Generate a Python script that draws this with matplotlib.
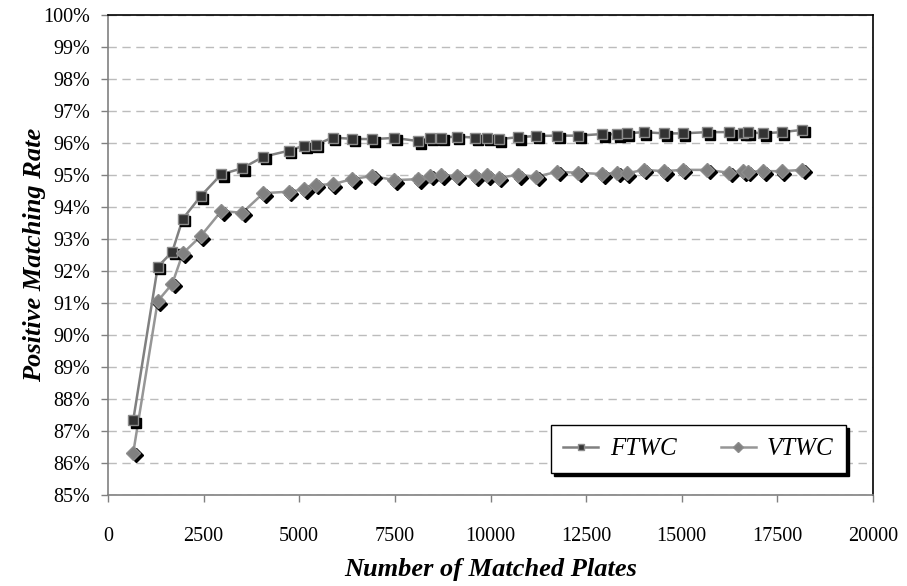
import matplotlib
matplotlib.use('Agg')
import matplotlib.pyplot as plt
import matplotlib.transforms as mtransforms
from matplotlib.ticker import MultipleLocator, FuncFormatter

# number of matched plates (shared by both series)
plates = [660, 1300, 1680, 1955, 2425, 2960, 3510, 4060, 4730, 5130,
          5430, 5870, 6380, 6905, 7490, 8105, 8425, 8715, 9115, 9595,
          9915, 10210, 10720, 11195, 11750, 12290, 12920, 13310, 13560, 14000,
          14540, 15020, 15665, 16240, 16610, 16720, 17130, 17610, 18155]

# positive matching rate (%)
ftwc = [87.34, 92.13, 92.60, 93.63, 94.34, 95.02, 95.21, 95.57, 95.76, 95.92,
        95.94, 96.17, 96.13, 96.12, 96.16, 96.06, 96.17, 96.17, 96.20, 96.17,
        96.17, 96.12, 96.18, 96.22, 96.23, 96.23, 96.28, 96.27, 96.30, 96.34,
        96.30, 96.30, 96.34, 96.34, 96.32, 96.34, 96.30, 96.34, 96.41]
vtwc = [86.32, 91.06, 91.60, 92.55, 93.09, 93.87, 93.82, 94.43, 94.48, 94.55,
        94.69, 94.71, 94.87, 94.97, 94.84, 94.87, 94.97, 95.00, 94.97, 94.96,
        95.00, 94.92, 95.00, 94.95, 95.10, 95.07, 95.03, 95.07, 95.05, 95.16,
        95.12, 95.16, 95.16, 95.07, 95.12, 95.10, 95.12, 95.12, 95.16]

serif = ['Liberation Serif', 'DejaVu Serif']
plt.rcParams['font.family'] = serif

fig = plt.figure(figsize=(9.07, 5.86), dpi=100)
ax = fig.add_axes([108/907, 1-495/586, 765/907, 480/586])

shadow = mtransforms.offset_copy(ax.transData, fig=fig, x=2.5, y=-2.5, units='dots')

# lines
ax.plot(plates, ftwc, color='#808080', lw=1.8, zorder=3)
ax.plot(plates, vtwc, color='#969696', lw=1.8, zorder=3)
# marker shadows
ax.plot(plates, ftwc, ls='none', marker='s', ms=7.5, color='black', mec='black', transform=shadow, zorder=4)
ax.plot(plates, vtwc, ls='none', marker='D', ms=7.5, color='black', mec='black', transform=shadow, zorder=4)
# markers
ax.plot(plates, ftwc, ls='none', marker='s', ms=7.5, mfc='#333333', mec='#8c8c8c', mew=1, zorder=5)
ax.plot(plates, vtwc, ls='none', marker='D', ms=7.5, mfc='#808080', mec='#8c8c8c', mew=1, zorder=5)

ax.set_xlim(0, 20000)
ax.set_ylim(85, 100)
ax.xaxis.set_major_locator(MultipleLocator(2500))
ax.yaxis.set_major_locator(MultipleLocator(1))
ax.yaxis.set_major_formatter(FuncFormatter(lambda v, p: '%d%%' % round(v)))

ax.grid(axis='y', color='#bcbcbc', ls=(0, (6, 4)), lw=1)
ax.set_axisbelow(True)

for s in ['left', 'bottom']:
    ax.spines[s].set_color('#808080')
for s in ['top', 'right']:
    ax.spines[s].set_color('black')
for s in ax.spines.values():
    s.set_linewidth(1.2)

ax.tick_params(direction='out', length=5, width=1, color='#808080', labelsize=14.5)
ax.tick_params(axis='y', pad=8)
ax.tick_params(axis='x', pad=18)

ax.set_xlabel('Number of Matched Plates', fontsize=19, fontweight='bold', style='italic', labelpad=9)
ax.set_ylabel('Positive Matching Rate', fontsize=19, fontweight='bold', style='italic', labelpad=-2)

# legend handles
h1, = ax.plot([], [], color='#808080', lw=1.8, marker='s', ms=5, mfc='#333333', mec='#8c8c8c')
h2, = ax.plot([], [], color='#969696', lw=1.8, marker='D', ms=5, mfc='#808080', mec='#8c8c8c')
leg = ax.legend([h1, h2], ['FTWC', 'VTWC'], loc='lower left', mode='expand', ncol=2,
                bbox_to_anchor=(0.579, 0.046, 0.386, 0.11), fancybox=False,
                shadow={'color': 'black', 'alpha': 1}, framealpha=1, edgecolor='black',
                prop={'size': 18, 'style': 'italic', 'family': serif},
                handlelength=1.4, handletextpad=0.45, borderaxespad=0, borderpad=0.5)
leg.get_frame().set_linewidth(1)
leg.set_zorder(10)

fig.savefig('out.png', dpi=100)
